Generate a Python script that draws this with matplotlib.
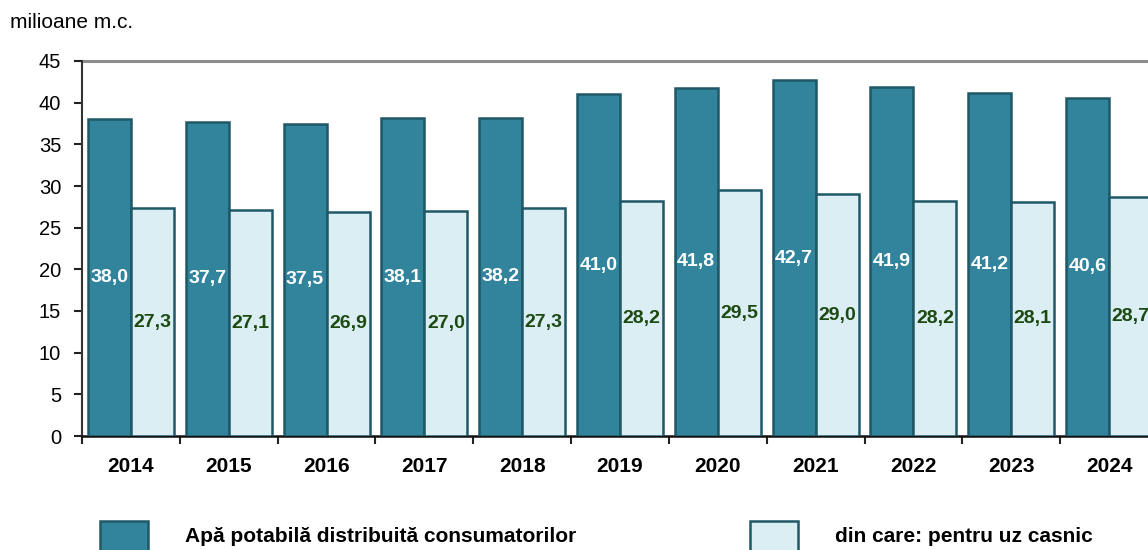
import matplotlib
matplotlib.use("Agg")
import matplotlib.pyplot as plt
from matplotlib.patches import Rectangle
import numpy as np

years = ["2014", "2015", "2016", "2017", "2018", "2019", "2020", "2021", "2022", "2023", "2024"]
total = [38.0, 37.7, 37.5, 38.1, 38.2, 41.0, 41.8, 42.7, 41.9, 41.2, 40.6]
household = [27.3, 27.1, 26.9, 27.0, 27.3, 28.2, 29.5, 29.0, 28.2, 28.1, 28.7]
series_names = ["Apă potabilă distribuită consumatorilor", "din care: pentru uz casnic"]
unit_label = "milioane m.c."
yticks = [0, 5, 10, 15, 20, 25, 30, 35, 40, 45]

base = "Liberation Sans"

dark = "#31849B"
dark_edge = "#1F5866"
light = "#DAEEF3"
lab_green = "#1D4A12"

fig = plt.figure(figsize=(11.48, 5.5), dpi=100)
ax = fig.add_axes([82/1148, 1-436/550, 1076/1148, 375/550])

x = np.arange(len(years))
w = 0.44
ax.bar(x - w/2, total, w, color=dark, edgecolor=dark_edge, linewidth=1.8, zorder=3)
ax.bar(x + w/2, household, w, color=light, edgecolor=dark_edge, linewidth=1.8, zorder=3)

for xi, v in zip(x, total):
    ax.text(xi - w/2, v/2, f"{v:.1f}".replace(".", ","), ha="center", va="center",
            color="white", fontsize=14, fontweight="bold", family=base, zorder=4)
for xi, v in zip(x, household):
    ax.text(xi + w/2, v/2, f"{v:.1f}".replace(".", ","), ha="center", va="center",
            color=lab_green, fontsize=14, fontweight="bold", family=base, zorder=4)

ax.set_xlim(-0.5, len(years) - 0.5)
ax.set_ylim(0, 45)
ax.set_yticks(yticks)
ax.set_yticklabels([str(t) for t in yticks], fontsize=14.5, family=base)
ax.set_xticks(x)
ax.set_xticklabels(years, fontsize=15, fontweight="bold", family=base)
ax.set_xticks(np.arange(-0.5, len(years)), minor=True)
ax.tick_params(axis="x", which="major", length=0, pad=15)
ax.tick_params(axis="x", which="minor", length=6, width=1.5, direction="out", color="#222222")
ax.tick_params(axis="y", length=6, width=1.5, direction="out", color="#222222", pad=9)

ax.axhline(45, color="#8C8C8C", linewidth=2.2, zorder=2, clip_on=False)
for s in ["top", "right"]:
    ax.spines[s].set_visible(False)
ax.spines["left"].set_color("#333333")
ax.spines["left"].set_linewidth(1.5)
ax.spines["bottom"].set_color("#111111")
ax.spines["bottom"].set_linewidth(1.8)

fig.text(10/1148, 1-23/550, unit_label, fontsize=15, family=base, va="center", ha="left")

# legend
for (px, name, col) in [(100, series_names[0], dark), (750, series_names[1], light)]:
    fig.patches.append(Rectangle((px/1148, 1-552/550), 48/1148, 31/550, transform=fig.transFigure,
                                 facecolor=col, edgecolor=dark_edge, linewidth=1.8))
    fig.text((px + 85)/1148, 1-537/550, name, fontsize=15, fontweight="bold", family=base,
             va="center", ha="left")

fig.savefig("out.png", dpi=100)
